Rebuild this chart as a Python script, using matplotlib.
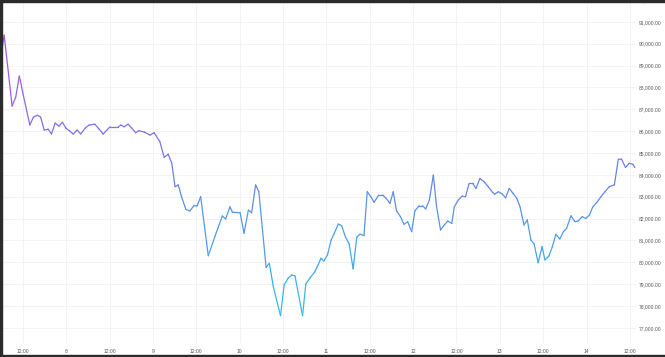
import numpy as np
import pandas as pd
import matplotlib
matplotlib.use("Agg")
import matplotlib.pyplot as plt
from matplotlib.collections import LineCollection
from matplotlib.colors import LinearSegmentedColormap, Normalize
from matplotlib.patches import Rectangle
import matplotlib.ticker as mticker

plt.rcParams["font.family"] = ["Liberation Sans", "DejaVu Sans"]

# hours since day 7 00:00 and price
hours = [5.6, 6.8, 9.0, 10.0, 11.0, 12.1, 13.9, 14.9, 16.0, 16.9, 17.9, 19.0, 19.9, 20.9,
         22.0, 22.9, 23.9, 25.0, 25.9, 27.0, 28.0, 29.2, 30.3, 31.9, 33.1, 34.2, 36.1,
         37.5, 38.4, 39.1, 40.0, 41.1, 42.1, 43.2, 44.1, 45.6, 47.2, 48.3, 49.9, 51.1,
         52.2, 53.2, 54.1, 55.0, 55.9, 57.1, 58.2, 59.3, 60.2, 61.2, 63.3, 65.1, 66.1,
         67.2, 68.1, 69.3, 70.0, 72.1, 73.2, 74.4, 75.3, 76.4, 77.3, 79.3, 80.2, 81.3,
         83.3, 84.3, 85.4, 86.4, 87.3, 89.4, 90.3, 91.4, 92.8, 93.7, 94.5, 95.3, 96.3,
         97.3, 98.1, 99.3, 100.2, 101.3, 102.3, 103.4, 104.4, 105.3, 106.4, 107.3, 108.3,
         109.2, 110.5, 111.6, 112.5, 113.6, 114.5, 115.4, 116.5, 117.5, 118.5, 119.6,
         120.5, 121.7, 122.6, 123.5, 124.5, 125.6, 126.5, 127.6, 128.5, 129.6, 130.7,
         131.4, 132.5, 133.6, 134.5, 135.5, 136.5, 137.4, 138.5, 139.6, 140.8, 142.0,
         142.6, 143.6, 144.7, 145.6, 146.6, 147.7, 148.7, 149.6, 150.7, 151.6, 152.6,
         153.5, 154.6, 155.7, 156.5, 157.6, 158.5, 159.5, 160.6, 161.6, 162.5, 163.7,
         164.8, 165.7, 166.8, 167.8, 168.8, 169.7, 170.8, 172.0, 173.1, 174.3, 175.7,
         176.8, 177.7, 178.8, 179.8, 180.9, 181.4]
prices = [89110, 90390, 87150, 87560, 88520, 87650, 86280, 86640, 86730, 86640, 86050,
          86090, 85870, 86370, 86230, 86410, 86140, 86000, 85870, 86050, 85870, 86140,
          86280, 86320, 86090, 85870, 86200, 86200, 86200, 86280, 86200, 86320, 86140,
          85930, 86020, 85960, 85820, 85930, 85520, 84800, 84950, 84530, 83460, 83540,
          83000, 82420, 82350, 82590, 82580, 83000, 80300, 81170, 81630, 82120, 81980,
          82540, 82290, 82270, 81330, 82390, 82270, 83540, 83230, 79770, 79960, 78890,
          77560, 78970, 79270, 79420, 79380, 77560, 79010, 79270, 79570, 79880, 80190,
          80060, 80340, 81020, 81300, 81750, 81680, 81150, 80840, 79700, 81150, 81290,
          81220, 83230, 83000, 82750, 83080, 83080, 82930, 82700, 83230, 82360, 82090,
          81740, 81860, 81400, 82360, 82590, 82590, 82440, 82850, 83990, 82540, 81480,
          81680, 81890, 81780, 82540, 82850, 83030, 83000, 83610, 83610, 83380, 83840,
          83690, 83460, 83200, 83120, 83230, 83120, 82950, 83380, 83150, 82930, 82540,
          81710, 81940, 81020, 80840, 79980, 80720, 80110, 80290, 80690, 81280, 81070,
          81400, 81560, 82130, 81860, 81890, 82090, 82010, 82160, 82520, 82730, 83000,
          83230, 83460, 83540, 84710, 84720, 84340, 84530, 84480, 84330]

start = pd.Timestamp("2025-03-07")
times = start + pd.to_timedelta(hours, unit="h")
x = matplotlib.dates.date2num(times.to_pydatetime())
y = np.array(prices, dtype=float)

fig = plt.figure(figsize=(6.65, 3.57), dpi=100)
ax = fig.add_axes([2 / 665, 14 / 357, 634 / 665, 343 / 357])

# gradient line (colour follows price)
cmap = LinearSegmentedColormap.from_list("grad", ["#29c2f2", "#6a82e4", "#b44be6"])
pts = np.column_stack([x, y]).reshape(-1, 1, 2)
segs = np.concatenate([pts[:-1], pts[1:]], axis=1)
lc = LineCollection(segs, cmap=cmap, norm=Normalize(77500, 90400), linewidth=0.9,
                    capstyle="round", joinstyle="round")
lc.set_array((y[:-1] + y[1:]) / 2)
ax.add_collection(lc)

ax.set_xlim(matplotlib.dates.date2num(start + pd.Timedelta(hours=6.2)),
            matplotlib.dates.date2num(start + pd.Timedelta(hours=181.7)))
ax.set_ylim(76310, 92000)

# ticks
tick_times = [start + pd.Timedelta(hours=h) for h in range(12, 181, 12)]
tick_labels = ["12:00" if t.hour == 12 else str(t.day) for t in tick_times]
ax.set_xticks(matplotlib.dates.date2num(tick_times))
ax.set_xticklabels(tick_labels)
ax.set_yticks(np.arange(77000, 92001, 1000))
ax.yaxis.set_major_formatter(mticker.FuncFormatter(lambda v, p: f"{v:,.2f}"))
ax.yaxis.tick_right()
ax.tick_params(axis="both", length=0, labelsize=3.6, colors="#555555")
ax.tick_params(axis="y", pad=2)
ax.tick_params(axis="x", pad=4)
for lab in ax.get_yticklabels():
    lab.set_horizontalalignment("left")

ax.grid(True, color="#f1f1f4", linewidth=0.6)
ax.set_axisbelow(True)
for s in ax.spines.values():
    s.set_visible(False)

# dark frame of the screenshot
fig.add_artist(Rectangle((0, 0), 2 / 665, 1, transform=fig.transFigure, color="#2b2b2b", zorder=10))
fig.add_artist(Rectangle((0, 1 - 1.5 / 357), 1, 1.5 / 357, transform=fig.transFigure, color="#2b2b2b", zorder=10))
fig.add_artist(Rectangle((0, 0), 1, 2 / 357, transform=fig.transFigure, color="#2b2b2b", zorder=10))

fig.savefig("out.png", dpi=100)
